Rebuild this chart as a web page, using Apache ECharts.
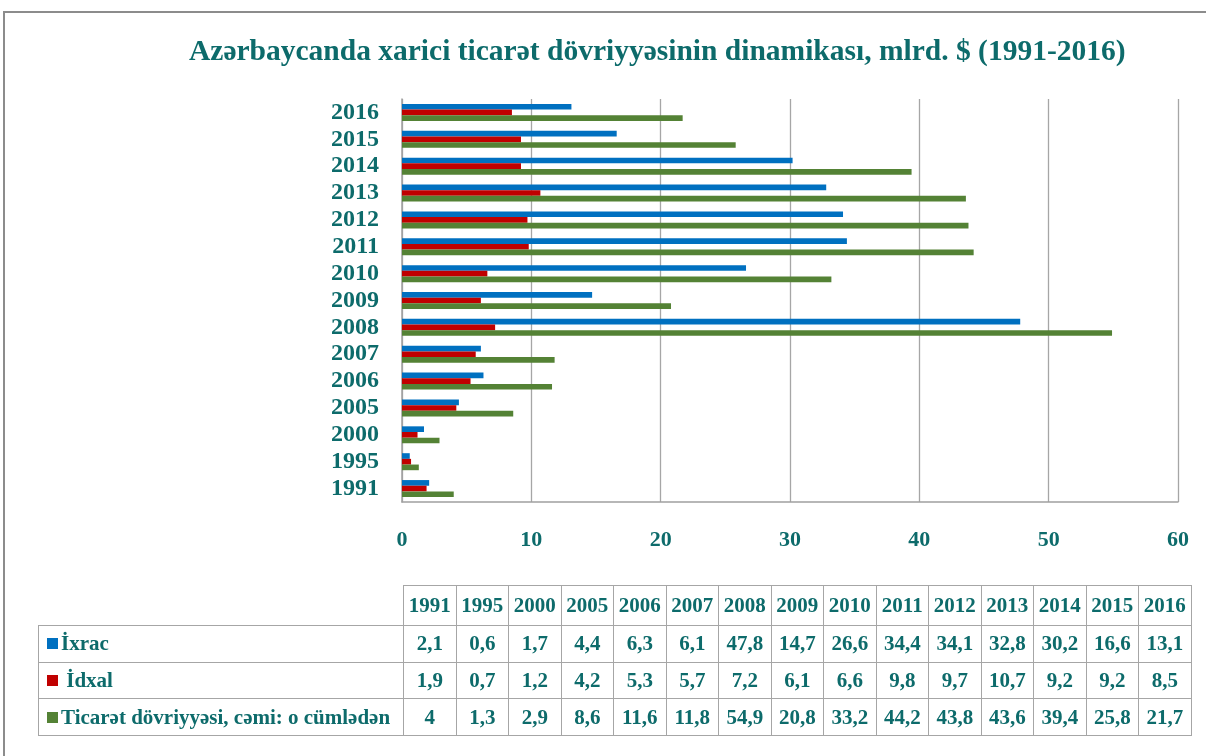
<!DOCTYPE html>
<html>
<head>
<meta charset="utf-8">
<script src="https://cdn.jsdelivr.net/npm/echarts@6/dist/echarts.min.js"></script>
<style>
  html, body { margin: 0; padding: 0; background: #fff; }
  #wrap { position: relative; width: 1206px; height: 756px; overflow: hidden; }
  #chart { position: absolute; left: 0; top: 0; width: 1206px; height: 756px; }
  #tbl { position: absolute; left: 38px; top: 585px; border-collapse: collapse;
         font-family: "Liberation Serif", "Times New Roman", serif; font-weight: bold;
         font-size: 21px; color: #0D6B6B; }
  #tbl td { border: 1px solid #A6A6A6; padding: 0; text-align: center; width: 51.5px; }
  #tbl td.lab { width: 356px; text-align: left; padding-left: 8px; white-space: pre; }
  #tbl td.blank { border: none; border-right: 1px solid #A6A6A6; border-bottom: 1px solid #A6A6A6; }
  #tbl tr.head td { height: 39px; }
  #tbl tr.row td { height: 35.7px; }
  .sq { display: inline-block; width: 11px; height: 11px; margin-right: 3px; vertical-align: 1px; }
</style>
</head>
<body>
<div id="wrap">
  <div id="chart"></div>
  <table id="tbl"></table>
</div>
<script>
// ---- data ----
const years = ['1991', '1995', '2000', '2005', '2006', '2007', '2008', '2009', '2010', '2011', '2012', '2013', '2014', '2015', '2016'];
const exportsVal = [2.1, 0.6, 1.7, 4.4, 6.3, 6.1, 47.8, 14.7, 26.6, 34.4, 34.1, 32.8, 30.2, 16.6, 13.1];
const importsVal = [1.9, 0.7, 1.2, 4.2, 5.3, 5.7, 7.2, 6.1, 6.6, 9.8, 9.7, 10.7, 9.2, 9.2, 8.5];
const totalVal = [4, 1.3, 2.9, 8.6, 11.6, 11.8, 54.9, 20.8, 33.2, 44.2, 43.8, 43.6, 39.4, 25.8, 21.7];
const seriesNames = ['İxrac', ' İdxal', 'Ticarət dövriyyəsi, cəmi: o cümlədən'];
const titleText = 'Azərbaycanda xarici ticarət dövriyyəsinin dinamikası, mlrd. $ (1991-2016)';

const colors = ['#0070C0', '#C00000', '#548235'];
const teal = '#0D6B6B';
const serif = '"Liberation Serif", "Times New Roman", serif';

const chart = echarts.init(document.getElementById('chart'), null, { renderer: 'canvas' });
chart.setOption({
  animation: false,
  backgroundColor: '#fff',
  title: {
    text: titleText,
    left: 184, top: 32,
    textStyle: { fontFamily: serif, fontWeight: 'bold', fontSize: 29.5, color: teal }
  },
  graphic: [{
    type: 'rect', silent: true,
    shape: { x: 4, y: 12, width: 1240, height: 800 },
    style: { fill: 'none', stroke: '#8C8C8C', lineWidth: 2 }
  }],
  grid: { left: 402, right: 28, top: 99, bottom: 254 },
  xAxis: {
    type: 'value', min: 0, max: 60, interval: 10,
    axisLine: { show: true, lineStyle: { color: '#A0A0A0', width: 1.5 } },
    axisTick: { show: false },
    splitLine: { show: true, lineStyle: { color: '#A6A6A6', width: 1.3 } },
    axisLabel: { fontFamily: serif, fontWeight: 'bold', fontSize: 22, color: teal, margin: 27 }
  },
  yAxis: {
    type: 'category', data: years,
    axisLine: { show: true, lineStyle: { color: '#A0A0A0', width: 1.5 } },
    axisTick: { show: false },
    axisLabel: { interval: 0, fontFamily: serif, fontWeight: 'bold', fontSize: 24, color: teal, margin: 23 }
  },
  series: [
    { name: seriesNames[0], type: 'bar', data: exportsVal, itemStyle: { color: colors[0] }, barGap: '0%', barCategoryGap: '36.7%' },
    { name: seriesNames[1], type: 'bar', data: importsVal, itemStyle: { color: colors[1] }, barGap: '0%', barCategoryGap: '36.7%' },
    { name: seriesNames[2], type: 'bar', data: totalVal, itemStyle: { color: colors[2] }, barGap: '0%', barCategoryGap: '36.7%' }
  ]
});

// ---- data table ----
const fmt = v => String(v).replace('.', ',');
const tbl = document.getElementById('tbl');
let html = '<tr class="head"><td class="lab blank"></td>' + years.map(y => '<td>' + y + '</td>').join('') + '</tr>';
const rows = [exportsVal, importsVal, totalVal];
rows.forEach((arr, i) => {
  html += '<tr class="row"><td class="lab"><span class="sq" style="background:' + colors[i] + '"></span>' + seriesNames[i] + '</td>' +
    arr.map(v => '<td>' + fmt(v) + '</td>').join('') + '</tr>';
});
tbl.innerHTML = html;
</script>
</body>
</html>
